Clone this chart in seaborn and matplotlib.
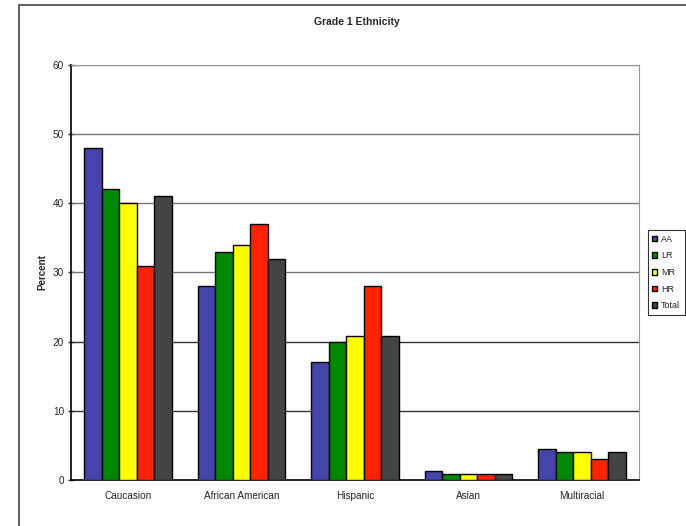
import seaborn as sns
import pandas as pd
import matplotlib.pyplot as plt
from matplotlib.patches import Rectangle

categories = ['Caucasion', 'African American', 'Hispanic', 'Asian', 'Multiracial']
groups = ['AA', 'LR', 'MR', 'HR', 'Total']
aa_vals = [48, 28, 17, 1.3, 4.5]
lr_vals = [42, 33, 20, 0.9, 4]
mr_vals = [40, 34, 20.8, 0.9, 4]
hr_vals = [31, 37, 28, 0.9, 3]
total_vals = [41, 32, 20.8, 0.9, 4]
colors = ['#4444aa', '#008800', '#ffff00', '#ff2200', '#444444']

rows = []
for g, vals in zip(groups, [aa_vals, lr_vals, mr_vals, hr_vals, total_vals]):
    for c, v in zip(categories, vals):
        rows.append({'cat': c, 'group': g, 'pct': v})
df = pd.DataFrame(rows)

sns.set_style('white')
plt.rcParams['font.family'] = ['Liberation Sans', 'DejaVu Sans']

fig = plt.figure(figsize=(6.86, 5.26), dpi=100)
ax = fig.add_axes([0.1035, 0.0875, 0.828, 0.789])

# outer chart frame
fig.patches.append(Rectangle((0.0277, -0.05), 1.2, 1.0405, transform=fig.transFigure,
                             fill=False, edgecolor='#444444', lw=1.2))

sns.barplot(data=df, x='cat', y='pct', hue='group', order=categories, hue_order=groups,
            palette=colors, width=0.77, edgecolor='black', linewidth=1.0,
            saturation=1, ax=ax, zorder=3)

for y in [10, 20, 30, 40, 50, 60]:
    ax.axhline(y, color='#333333' if y in (10, 20) else '#777777', lw=1.0, zorder=1)

ax.set_ylim(0, 60)
ax.set_xlim(-0.5, 4.5)
ax.set_yticks(range(0, 61, 10))
ax.set_xticks([i - 0.5 for i in range(1, 5)], minor=True)
ax.tick_params(axis='x', which='minor', length=4, width=1, color='black', direction='out')
ax.tick_params(axis='x', which='major', length=0, labelsize=7.2, pad=8)
ax.tick_params(axis='y', length=4, width=1, direction='inout', labelsize=7.2, pad=3, left=True)
ax.set_xlabel('')
ax.set_ylabel('Percent', fontsize=7, fontweight='bold', labelpad=4)
for s in ['top', 'right']:
    ax.spines[s].set_color('#999999')
for s in ['left', 'bottom']:
    ax.spines[s].set_color('black')
    ax.spines[s].set_linewidth(1.2)

fig.text(0.52, 0.958, 'Grade 1 Ethnicity', ha='center', va='center', fontsize=7.5, fontweight='bold')

leg = ax.legend(loc='center left', bbox_to_anchor=(1.015, 0.5), fontsize=6.5, frameon=True,
                handlelength=0.6, handleheight=0.6, handletextpad=0.4, labelspacing=0.85,
                borderpad=0.5, borderaxespad=0, fancybox=False)
leg.get_frame().set_edgecolor('black')
leg.get_frame().set_linewidth(0.8)

plt.savefig('out.png', dpi=100)
